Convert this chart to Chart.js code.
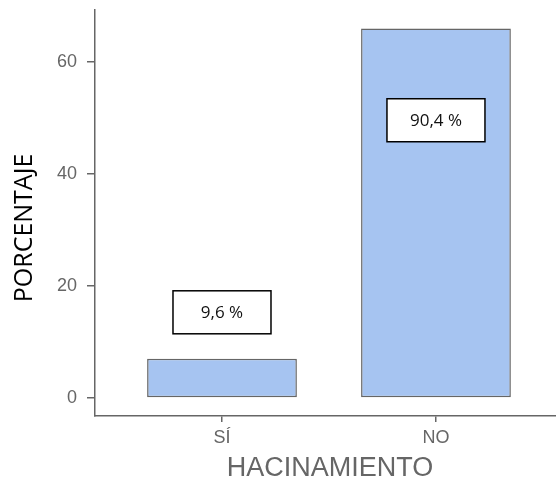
<!DOCTYPE html>
<html>
<head>
<meta charset="utf-8">
<script src="https://cdn.jsdelivr.net/npm/chart.js@4"></script>
<style>
  html, body { margin: 0; padding: 0; background: #fff; }
  #wrap { width: 556px; height: 481px; }
</style>
</head>
<body>
<div id="wrap"><canvas id="hacChart"></canvas></div>
<script>
const categories = ['SÍ', 'NO'];
const counts = [7, 66];
const percentLabels = ['9,6 %', '90,4 %'];
const labelLevels = [15.4, 49.7];
const yTicks = [0, 20, 40, 60];

const textGray = '#666666';

// white boxes with the percentage, plus both axis titles
const boxLabels = {
  id: 'boxLabels',
  afterDatasetsDraw(chart) {
    const ctx = chart.ctx;
    const x = chart.scales.x;
    const y = chart.scales.y;
    ctx.save();
    percentLabels.forEach((txt, i) => {
      const cx = x.getPixelForValue(i);
      const cy = y.getPixelForValue(labelLevels[i]);
      ctx.fillStyle = '#fff';
      ctx.fillRect(cx - 49, cy - 21, 98, 43);
      ctx.strokeStyle = '#000';
      ctx.lineWidth = 1.5;
      ctx.strokeRect(cx - 49, cy - 21, 98, 43);
      ctx.fillStyle = '#111';
      ctx.font = '17px "Open Sans"';
      ctx.textAlign = 'center';
      ctx.textBaseline = 'middle';
      ctx.fillText(txt, cx, cy + 1);
    });

    ctx.fillStyle = '#000';
    ctx.font = '25px "Open Sans"';
    ctx.textAlign = 'center';
    ctx.textBaseline = 'middle';
    ctx.translate(25, 228);
    ctx.rotate(-Math.PI / 2);
    ctx.fillText('PORCENTAJE', 0, 0);
    ctx.restore();

    ctx.save();
    ctx.fillStyle = textGray;
    ctx.font = '27px "Liberation Sans"';
    ctx.textAlign = 'center';
    ctx.textBaseline = 'middle';
    ctx.fillText('HACINAMIENTO', 330, 469);
    ctx.restore();
  }
};

const ctx = document.getElementById('hacChart').getContext('2d');
new Chart(ctx, {
  type: 'bar',
  data: {
    datasets: [{
      data: counts.map((v, i) => ({ x: i, y: v })),
      backgroundColor: '#a6c4f1',
      borderColor: '#666',
      borderWidth: 1.5,
      borderSkipped: false,
      categoryPercentage: 1,
      barPercentage: 0.7
    }]
  },
  options: {
    responsive: true,
    maintainAspectRatio: false,
    animation: false,
    layout: { padding: { top: 10, right: 0, left: 0, bottom: 0 } },
    plugins: {
      legend: { display: false },
      tooltip: { enabled: false }
    },
    scales: {
      x: {
        type: 'linear',
        offset: false,
        min: -0.5935,
        max: 1.561,
        afterBuildTicks: s => { s.ticks = categories.map((c, i) => ({ value: i })); },
        afterFit: s => { s.height = 65; },
        ticks: {
          callback: v => categories[v],
          color: textGray,
          font: { family: 'Liberation Sans', size: 18 },
          padding: 5,
          maxRotation: 0
        },
        grid: {
          offset: false,
          drawOnChartArea: false,
          tickLength: 6,
          color: '#666',
          lineWidth: 1.5
        },
        border: { color: '#666', width: 1.5 }
      },
      y: {
        min: -3.21,
        max: 69.3,
        afterBuildTicks: s => { s.ticks = yTicks.map(v => ({ value: v })); },
        afterFit: s => {
          s.width = 95;
          s.paddingTop = 0;
          s.paddingBottom = 0;
        },
        ticks: {
          color: textGray,
          font: { family: 'Liberation Sans', size: 18 },
          padding: 10
        },
        grid: {
          drawOnChartArea: false,
          tickLength: 8,
          color: '#666',
          lineWidth: 1.5
        },
        border: { color: '#666', width: 1.5 }
      }
    }
  },
  plugins: [boxLabels]
});
</script>
</body>
</html>
